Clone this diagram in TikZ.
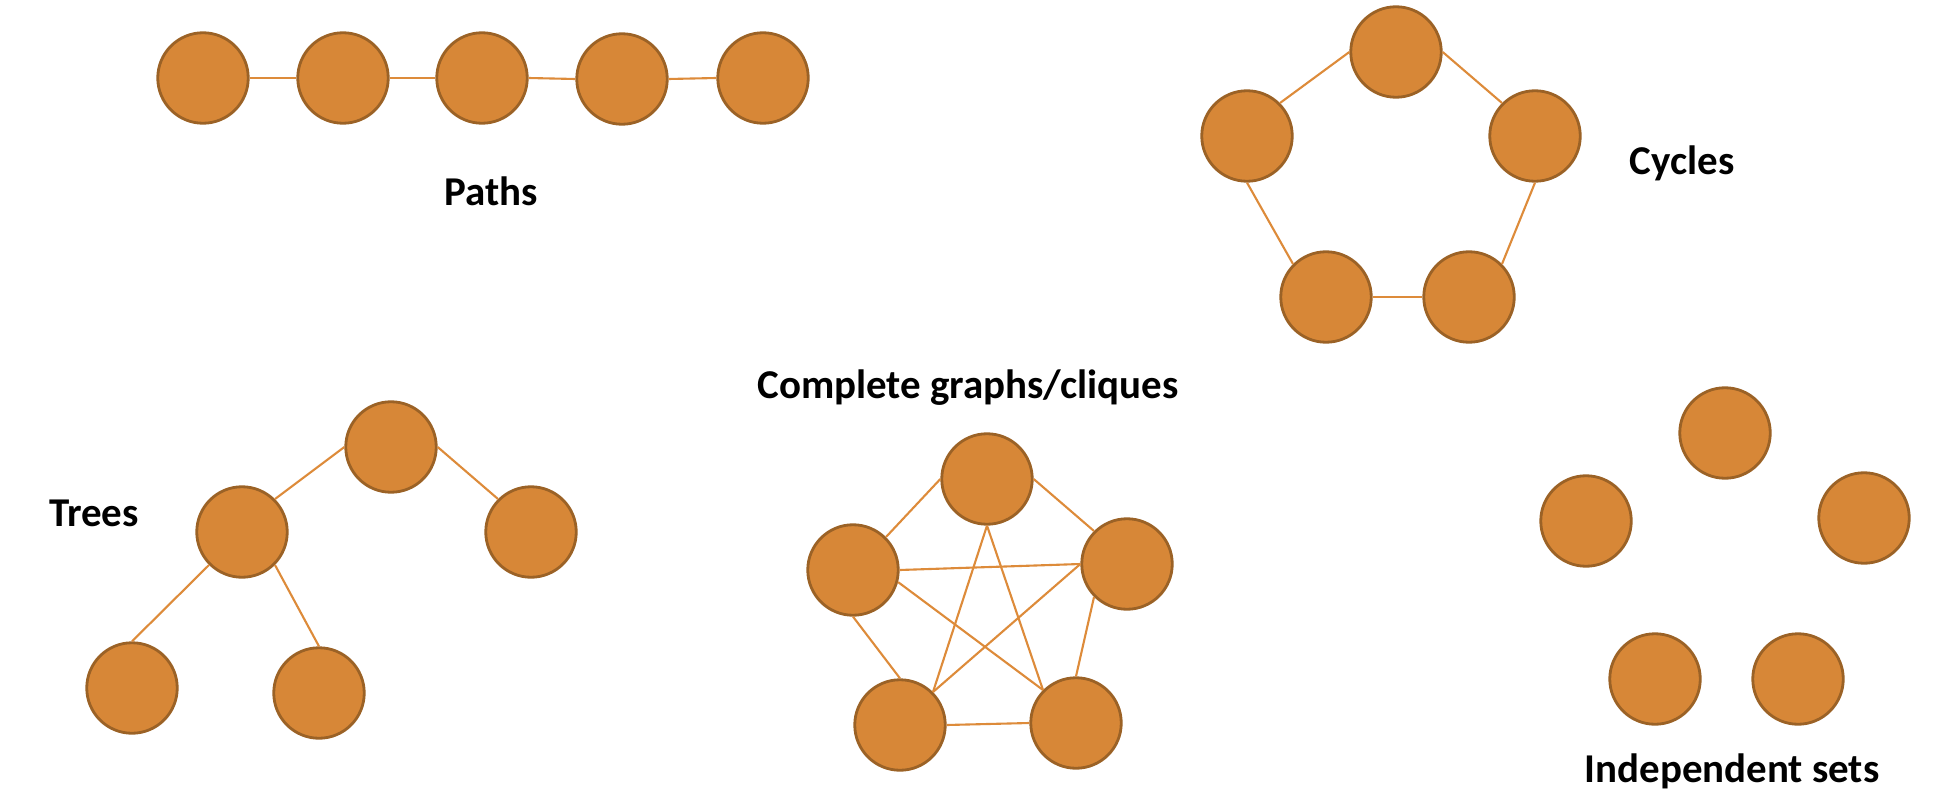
\documentclass[tikz,border=0pt]{standalone}
\usepackage{fontspec}
\setmainfont{Carlito}
\definecolor{vfill}{RGB}{215,135,55}
\definecolor{vline}{RGB}{155,98,38}
\definecolor{eline}{RGB}{221,139,58}
\tikzset{
    vertex/.style = {circle, draw = vline, fill = vfill, line width = 1.6pt,
        minimum size = 18.1mm, inner sep = 0pt},
    caption/.style = {anchor = base, font = \bfseries\fontsize{23.3}{27}\selectfont},
    every edge/.style = {draw = eline, line width = 1.2pt}
}

\begin{document}
\begin{tikzpicture}[x = 0.2mm, y = -0.2mm]
    \useasboundingbox (0, 0) rectangle (1938, 795);

    \node[vertex] (p1) at (203, 78) {};
    \node[vertex] (p2) at (343, 78) {};
    \node[vertex] (p3) at (482, 78) {};
    \node[vertex] (p4) at (622, 79) {};
    \node[vertex] (p5) at (763, 78) {};
    \node[caption] (paths) at (491, 205) {Paths};

    \draw (p1.east) edge (p2.west);
    \draw (p2.east) edge (p3.west);
    \draw (p3.east) edge (p4.west);
    \draw (p4.east) edge (p5.west);

    \node[vertex] (c1) at (1396, 52) {};
    \node[vertex] (c2) at (1247, 136) {};
    \node[vertex] (c3) at (1535, 136) {};
    \node[vertex] (c4) at (1326, 297) {};
    \node[vertex] (c5) at (1469, 297) {};
    \node[caption] (cycles) at (1682, 174) {Cycles};

    \draw (c1.west) edge (c2.north east);
    \draw (c1.east) edge (c3.north west);
    \draw (c2.south) edge (c4.north west);
    \draw (c3.south) edge (c5.north east);
    \draw (c4.east) edge (c5.west);

    \node[vertex] (t1) at (391, 447) {};
    \node[vertex] (t2) at (242, 532) {};
    \node[vertex] (t3) at (531, 532) {};
    \node[vertex] (t4) at (132, 688) {};
    \node[vertex] (t5) at (319, 693) {};
    \node[caption] (trees) at (94, 526) {Trees};

    \draw (t1.west) edge (t2.north east);
    \draw (t1.east) edge (t3.north west);
    \draw (t2.south west) edge (t4.north);
    \draw (t2.south east) edge (t5.north);

    \node[vertex] (k1) at (987, 479) {};
    \node[vertex] (k2) at (853, 570) {};
    \node[vertex] (k3) at (1127, 564) {};
    \node[vertex] (k4) at (900, 725) {};
    \node[vertex] (k5) at (1076, 723) {};
    \node[caption] (cliques) at (968, 398) {Complete graphs/cliques};

    \draw (k1.west) edge (k2.north east);
    \draw (k1.east) edge (k3.north west);
    \draw (k1.south) edge (k4.north east);
    \draw (k1.south) edge (k5.north west);
    \draw (k2.east) edge (k3.west);
    \draw (k2.south) edge (k4.north);
    \draw (k2.-15) edge (k5.north west);
    \draw (k3.west) edge (k4.north east);
    \draw (k3.south west) edge (k5.north);
    \draw (k4.east) edge (k5.west);

    \node[vertex] (i1) at (1725, 433) {};
    \node[vertex] (i2) at (1586, 521) {};
    \node[vertex] (i3) at (1864, 518) {};
    \node[vertex] (i4) at (1655, 679) {};
    \node[vertex] (i5) at (1798, 679) {};
    \node[caption] (indep) at (1732, 782) {Independent sets};
\end{tikzpicture}
\end{document}
